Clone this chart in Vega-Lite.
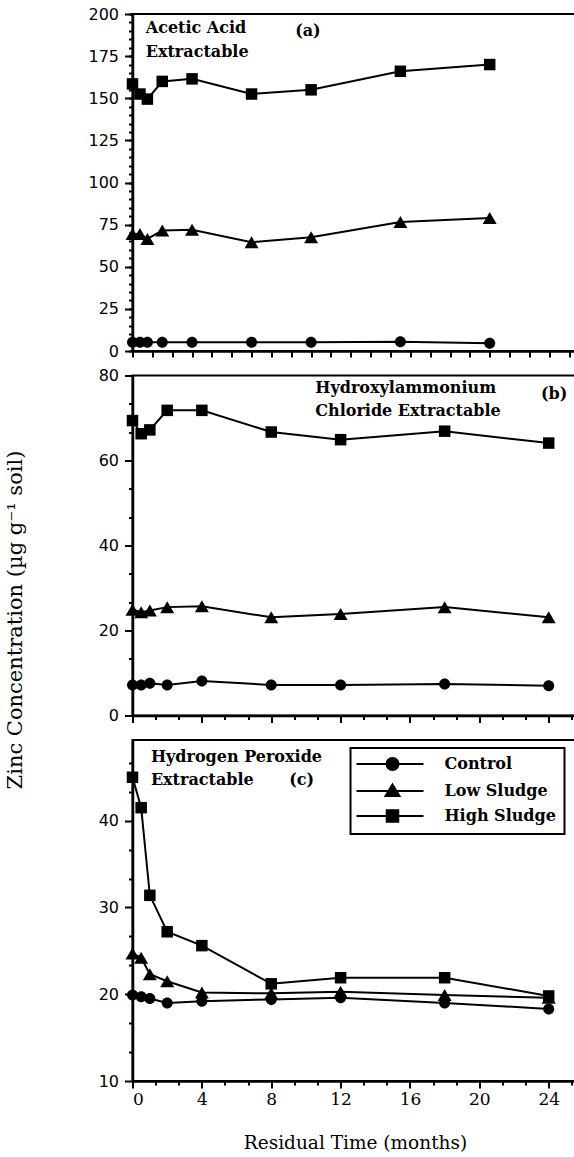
{
  "$schema": "https://vega.github.io/schema/vega-lite/v6.json",
  "background": "white",
  "padding": {"left": 3.5, "top": 5, "right": 0, "bottom": 5},
  "config": {
    "view": {"stroke": "black", "strokeWidth": 2},
    "axis": {"domainColor": "black", "domainWidth": 2.5, "tickColor": "black", "tickWidth": 2, "grid": false, "labelColor": "black", "titleColor": "black"}
  },
  "datasets": {
    "zinc": [
      {"panel": "a", "treatment": "Control", "month": 0, "zinc": 5.2},
      {"panel": "a", "treatment": "Control", "month": 0.5, "zinc": 5.2},
      {"panel": "a", "treatment": "Control", "month": 1, "zinc": 5.2},
      {"panel": "a", "treatment": "Control", "month": 2, "zinc": 5.2},
      {"panel": "a", "treatment": "Control", "month": 4, "zinc": 5.2},
      {"panel": "a", "treatment": "Control", "month": 8, "zinc": 5.2},
      {"panel": "a", "treatment": "Control", "month": 12, "zinc": 5.2},
      {"panel": "a", "treatment": "Control", "month": 18, "zinc": 5.5},
      {"panel": "a", "treatment": "Control", "month": 24, "zinc": 4.6},
      {"panel": "a", "treatment": "Low Sludge", "month": 0, "zinc": 69.5},
      {"panel": "a", "treatment": "Low Sludge", "month": 0.5, "zinc": 69.5},
      {"panel": "a", "treatment": "Low Sludge", "month": 1, "zinc": 66.5},
      {"panel": "a", "treatment": "Low Sludge", "month": 2, "zinc": 71.5},
      {"panel": "a", "treatment": "Low Sludge", "month": 4, "zinc": 72},
      {"panel": "a", "treatment": "Low Sludge", "month": 8, "zinc": 64.5},
      {"panel": "a", "treatment": "Low Sludge", "month": 12, "zinc": 67.5},
      {"panel": "a", "treatment": "Low Sludge", "month": 18, "zinc": 76.5},
      {"panel": "a", "treatment": "Low Sludge", "month": 24, "zinc": 79},
      {"panel": "a", "treatment": "High Sludge", "month": 0, "zinc": 158.5},
      {"panel": "a", "treatment": "High Sludge", "month": 0.5, "zinc": 152.5},
      {"panel": "a", "treatment": "High Sludge", "month": 1, "zinc": 149.5},
      {"panel": "a", "treatment": "High Sludge", "month": 2, "zinc": 160},
      {"panel": "a", "treatment": "High Sludge", "month": 4, "zinc": 161.5},
      {"panel": "a", "treatment": "High Sludge", "month": 8, "zinc": 152.5},
      {"panel": "a", "treatment": "High Sludge", "month": 12, "zinc": 155},
      {"panel": "a", "treatment": "High Sludge", "month": 18, "zinc": 166},
      {"panel": "a", "treatment": "High Sludge", "month": 24, "zinc": 170},
      {"panel": "b", "treatment": "Control", "month": 0, "zinc": 7.2},
      {"panel": "b", "treatment": "Control", "month": 0.5, "zinc": 7.2},
      {"panel": "b", "treatment": "Control", "month": 1, "zinc": 7.6},
      {"panel": "b", "treatment": "Control", "month": 2, "zinc": 7.2},
      {"panel": "b", "treatment": "Control", "month": 4, "zinc": 8.1},
      {"panel": "b", "treatment": "Control", "month": 8, "zinc": 7.2},
      {"panel": "b", "treatment": "Control", "month": 12, "zinc": 7.2},
      {"panel": "b", "treatment": "Control", "month": 18, "zinc": 7.4},
      {"panel": "b", "treatment": "Control", "month": 24, "zinc": 7.0},
      {"panel": "b", "treatment": "Low Sludge", "month": 0, "zinc": 24.9},
      {"panel": "b", "treatment": "Low Sludge", "month": 0.5, "zinc": 24.3},
      {"panel": "b", "treatment": "Low Sludge", "month": 1, "zinc": 24.7},
      {"panel": "b", "treatment": "Low Sludge", "month": 2, "zinc": 25.5},
      {"panel": "b", "treatment": "Low Sludge", "month": 4, "zinc": 25.7},
      {"panel": "b", "treatment": "Low Sludge", "month": 8, "zinc": 23.1},
      {"panel": "b", "treatment": "Low Sludge", "month": 12, "zinc": 23.9},
      {"panel": "b", "treatment": "Low Sludge", "month": 18, "zinc": 25.5},
      {"panel": "b", "treatment": "Low Sludge", "month": 24, "zinc": 23.1},
      {"panel": "b", "treatment": "High Sludge", "month": 0, "zinc": 69.4},
      {"panel": "b", "treatment": "High Sludge", "month": 0.5, "zinc": 66.3},
      {"panel": "b", "treatment": "High Sludge", "month": 1, "zinc": 67.2},
      {"panel": "b", "treatment": "High Sludge", "month": 2, "zinc": 71.8},
      {"panel": "b", "treatment": "High Sludge", "month": 4, "zinc": 71.8},
      {"panel": "b", "treatment": "High Sludge", "month": 8, "zinc": 66.7},
      {"panel": "b", "treatment": "High Sludge", "month": 12, "zinc": 64.9},
      {"panel": "b", "treatment": "High Sludge", "month": 18, "zinc": 66.9},
      {"panel": "b", "treatment": "High Sludge", "month": 24, "zinc": 64.1},
      {"panel": "c", "treatment": "Control", "month": 0, "zinc": 19.9},
      {"panel": "c", "treatment": "Control", "month": 0.5, "zinc": 19.7},
      {"panel": "c", "treatment": "Control", "month": 1, "zinc": 19.5},
      {"panel": "c", "treatment": "Control", "month": 2, "zinc": 19.0},
      {"panel": "c", "treatment": "Control", "month": 4, "zinc": 19.2},
      {"panel": "c", "treatment": "Control", "month": 8, "zinc": 19.4},
      {"panel": "c", "treatment": "Control", "month": 12, "zinc": 19.6},
      {"panel": "c", "treatment": "Control", "month": 18, "zinc": 19.0},
      {"panel": "c", "treatment": "Control", "month": 24, "zinc": 18.3},
      {"panel": "c", "treatment": "Low Sludge", "month": 0, "zinc": 24.7},
      {"panel": "c", "treatment": "Low Sludge", "month": 0.5, "zinc": 24.2},
      {"panel": "c", "treatment": "Low Sludge", "month": 1, "zinc": 22.3},
      {"panel": "c", "treatment": "Low Sludge", "month": 2, "zinc": 21.5},
      {"panel": "c", "treatment": "Low Sludge", "month": 4, "zinc": 20.2},
      {"panel": "c", "treatment": "Low Sludge", "month": 8, "zinc": 20.1},
      {"panel": "c", "treatment": "Low Sludge", "month": 12, "zinc": 20.3},
      {"panel": "c", "treatment": "Low Sludge", "month": 18, "zinc": 19.9},
      {"panel": "c", "treatment": "Low Sludge", "month": 24, "zinc": 19.6},
      {"panel": "c", "treatment": "High Sludge", "month": 0, "zinc": 45.0},
      {"panel": "c", "treatment": "High Sludge", "month": 0.5, "zinc": 41.5},
      {"panel": "c", "treatment": "High Sludge", "month": 1, "zinc": 31.4},
      {"panel": "c", "treatment": "High Sludge", "month": 2, "zinc": 27.2},
      {"panel": "c", "treatment": "High Sludge", "month": 4, "zinc": 25.6},
      {"panel": "c", "treatment": "High Sludge", "month": 8, "zinc": 21.2},
      {"panel": "c", "treatment": "High Sludge", "month": 12, "zinc": 21.9},
      {"panel": "c", "treatment": "High Sludge", "month": 18, "zinc": 21.9},
      {"panel": "c", "treatment": "High Sludge", "month": 24, "zinc": 19.8}
    ],
    "notes": [
      {"panel": "a", "month": 0.89, "zinc": 191.4, "label": "Acetic Acid"},
      {"panel": "a", "month": 0.89, "zinc": 177.3, "label": "Extractable"},
      {"panel": "a", "month": 10.93, "zinc": 189.8, "label": "(a)"},
      {"panel": "b", "month": 10.54, "zinc": 77.0, "label": "Hydroxylammonium"},
      {"panel": "b", "month": 10.54, "zinc": 71.6, "label": "Chloride Extractable"},
      {"panel": "b", "month": 23.55, "zinc": 75.7, "label": "(b)"},
      {"panel": "c", "month": 1.06, "zinc": 47.3, "label": "Hydrogen Peroxide"},
      {"panel": "c", "month": 1.06, "zinc": 44.7, "label": "Extractable"},
      {"panel": "c", "month": 9.04, "zinc": 44.7, "label": "(c)"}
    ]
  },
  "bounds": "flush",
  "spacing": 24.5,
  "resolve": {"scale": {"shape": "independent", "color": "independent"}, "legend": {"shape": "independent", "color": "independent"}},
  "vconcat": [
    {
      "width": 445,
      "height": 337,
      "resolve": {"axis": {"x": "independent", "y": "independent"}},
      "layer": [
        {
          "data": {"name": "zinc"},
          "transform": [{"filter": "datum.panel === 'a'"}],
          "mark": {"type": "line", "color": "black", "strokeWidth": 2},
          "encoding": {
            "x": {"field": "month", "type": "quantitative", "scale": {"domain": [0, 29.9], "nice": false, "zero": false},
              "axis": {"orient": "bottom", "values": [0, 1.3333, 2.6667, 4, 5.3333, 6.6667, 8, 9.3333, 10.6667, 12, 13.3333, 14.6667, 16, 17.3333, 18.6667, 20, 21.3333, 22.6667, 24, 25.3333, 26.6667, 28, 29.3333], "labels": false, "tickSize": 6, "title": null}},
            "y": {"field": "zinc", "type": "quantitative", "scale": {"domain": [0, 200], "nice": false},
              "axis": {"orient": "left", "values": [0, 25, 50, 75, 100, 125, 150, 175, 200], "tickSize": 8, "labelPadding": 6, "labelFont": "DejaVu Sans", "labelFontSize": 16, "title": null}},
            "detail": {"field": "treatment"}
          }
        },
        {
          "data": {"name": "zinc"},
          "transform": [{"filter": "datum.panel === 'a'"}],
          "mark": {"type": "point", "filled": true, "color": "black", "opacity": 1, "size": 100},
          "encoding": {
            "x": {"field": "month", "type": "quantitative", "axis": null},
            "y": {"field": "zinc", "type": "quantitative",
              "axis": {"orient": "left", "values": [0, 5, 10, 15, 20, 25, 30, 35, 40, 45, 50, 55, 60, 65, 70, 75, 80, 85, 90, 95, 100, 105, 110, 115, 120, 125, 130, 135, 140, 145, 150, 155, 160, 165, 170, 175, 180, 185, 190, 195, 200], "labels": false, "domain": false, "tickSize": 4, "title": null}},
            "shape": {"field": "treatment", "type": "nominal",
              "scale": {"domain": ["High Sludge", "Low Sludge", "Control"], "range": ["M-1.15,-1.15H1.15V1.15H-1.15Z", "M0,-1.2L1.4,1.2L-1.4,1.2Z", "M1.1,0A1.1,1.1,0,1,1,-1.1,0A1.1,1.1,0,1,1,1.1,0Z"]},
              "legend": null}
          }
        },
        {
          "data": {"name": "notes"},
          "transform": [{"filter": "datum.panel === 'a'"}],
          "mark": {"type": "text", "align": "left", "baseline": "middle", "font": "DejaVu Serif", "fontWeight": "bold", "fontSize": 16, "color": "black"},
          "encoding": {
            "x": {"field": "month", "type": "quantitative", "axis": null},
            "y": {"field": "zinc", "type": "quantitative", "axis": null},
            "text": {"field": "label"}
          }
        }
      ]
    },
    {
      "width": 445,
      "height": 340,
      "resolve": {"axis": {"x": "independent", "y": "independent"}},
      "layer": [
        {
          "data": {"name": "zinc"},
          "transform": [{"filter": "datum.panel === 'b'"}],
          "mark": {"type": "line", "color": "black", "strokeWidth": 2},
          "encoding": {
            "x": {"field": "month", "type": "quantitative", "scale": {"domain": [0, 25.66], "nice": false, "zero": false},
              "axis": {"orient": "bottom", "values": [0, 4, 8, 12, 16, 20, 24], "labels": false, "tickSize": 7, "title": null}},
            "y": {"field": "zinc", "type": "quantitative", "scale": {"domain": [0, 80], "nice": false},
              "axis": {"orient": "left", "values": [0, 20, 40, 60, 80], "tickSize": 8, "labelPadding": 6, "labelFont": "DejaVu Sans", "labelFontSize": 16,
                "title": "Zinc Concentration (µg g⁻¹ soil)", "titleFont": "DejaVu Serif", "titleFontSize": 21, "titleFontWeight": "normal", "titleX": -117, "titleY": 244, "titleAngle": 270, "titleAlign": "center", "titleBaseline": "middle"}},
            "detail": {"field": "treatment"}
          }
        },
        {
          "data": {"name": "zinc"},
          "transform": [{"filter": "datum.panel === 'b'"}],
          "mark": {"type": "point", "filled": true, "color": "black", "opacity": 1, "size": 100},
          "encoding": {
            "x": {"field": "month", "type": "quantitative",
              "axis": {"orient": "bottom", "values": [1.3333, 2.6667, 5.3333, 6.6667, 9.3333, 10.6667, 13.3333, 14.6667, 17.3333, 18.6667, 21.3333, 22.6667, 25.3333], "labels": false, "domain": false, "tickSize": 4, "title": null}},
            "y": {"field": "zinc", "type": "quantitative",
              "axis": {"orient": "left", "values": [6.6667, 13.3333, 26.6667, 33.3333, 46.6667, 53.3333, 66.6667, 73.3333], "labels": false, "domain": false, "tickSize": 4, "title": null}},
            "shape": {"field": "treatment", "type": "nominal",
              "scale": {"domain": ["High Sludge", "Low Sludge", "Control"], "range": ["M-1.15,-1.15H1.15V1.15H-1.15Z", "M0,-1.2L1.4,1.2L-1.4,1.2Z", "M1.1,0A1.1,1.1,0,1,1,-1.1,0A1.1,1.1,0,1,1,1.1,0Z"]},
              "legend": null}
          }
        },
        {
          "data": {"name": "notes"},
          "transform": [{"filter": "datum.panel === 'b'"}],
          "mark": {"type": "text", "align": "left", "baseline": "middle", "font": "DejaVu Serif", "fontWeight": "bold", "fontSize": 16, "color": "black"},
          "encoding": {
            "x": {"field": "month", "type": "quantitative", "axis": null},
            "y": {"field": "zinc", "type": "quantitative", "axis": null},
            "text": {"field": "label"}
          }
        }
      ]
    },
    {
      "width": 445,
      "height": 341,
      "resolve": {"axis": {"x": "independent", "y": "independent"}},
      "layer": [
        {
          "data": {"name": "zinc"},
          "transform": [{"filter": "datum.panel === 'c'"}],
          "mark": {"type": "line", "color": "black", "strokeWidth": 2},
          "encoding": {
            "x": {"field": "month", "type": "quantitative", "scale": {"domain": [0, 25.66], "nice": false, "zero": false},
              "axis": {"orient": "bottom", "values": [0, 4, 8, 12, 16, 20, 24], "tickSize": 7, "labelPadding": 3, "labelFont": "DejaVu Serif", "labelFontSize": 17,
                "title": "Residual Time (months)", "titleFont": "DejaVu Serif", "titleFontSize": 18.5, "titleFontWeight": "normal", "titlePadding": 26}},
            "y": {"field": "zinc", "type": "quantitative", "scale": {"domain": [10, 49.3], "nice": false, "zero": false},
              "axis": {"orient": "left", "values": [10, 20, 30, 40], "tickSize": 8, "labelPadding": 6, "labelFont": "DejaVu Sans", "labelFontSize": 16, "title": null}},
            "detail": {"field": "treatment"}
          }
        },
        {
          "data": {"name": "zinc"},
          "transform": [{"filter": "datum.panel === 'c'"}],
          "mark": {"type": "point", "filled": true, "color": "black", "opacity": 1, "size": 100},
          "encoding": {
            "x": {"field": "month", "type": "quantitative",
              "axis": {"orient": "bottom", "values": [1.3333, 2.6667, 5.3333, 6.6667, 9.3333, 10.6667, 13.3333, 14.6667, 17.3333, 18.6667, 21.3333, 22.6667, 25.3333], "labels": false, "domain": false, "tickSize": 4, "title": null}},
            "y": {"field": "zinc", "type": "quantitative",
              "axis": {"orient": "left", "values": [13.3333, 16.6667, 23.3333, 26.6667, 33.3333, 36.6667, 43.3333, 46.6667], "labels": false, "domain": false, "tickSize": 4, "title": null}},
            "shape": {"field": "treatment", "type": "nominal",
              "scale": {"domain": ["High Sludge", "Low Sludge", "Control"], "range": ["M-1.15,-1.15H1.15V1.15H-1.15Z", "M0,-1.2L1.4,1.2L-1.4,1.2Z", "M1.1,0A1.1,1.1,0,1,1,-1.1,0A1.1,1.1,0,1,1,1.1,0Z"]},
              "legend": null},
            "color": {"field": "treatment", "type": "nominal",
              "scale": {"domain": ["Control", "Low Sludge", "High Sludge"], "range": ["black", "black", "black"]},
              "legend": {
                "orient": "none", "legendX": 218, "legendY": 8, "title": null,
                "symbolSize": 100, "symbolStrokeWidth": 2, "symbolStrokeColor": "black", "symbolFillColor": "black", "symbolOffset": 0, "symbolOpacity": 1,
                "labelFont": "DejaVu Serif", "labelFontSize": 16, "labelFontWeight": "bold", "labelColor": "black", "labelOffset": 70, "labelLimit": 300,
                "rowPadding": 6, "padding": 8, "strokeColor": "black",
                "encode": {
                  "legend": {"update": {"strokeWidth": {"value": 2}}, "strokeWidth": {"value": 2}},
                  "symbols": {
                    "update": {
                      "shape": {"signal": "datum.value === 'Control' ? 'M-2,0H11.4M6.4,0A1.2,1.2,0,1,1,4,0A1.2,1.2,0,1,1,6.4,0Z' : datum.value === 'Low Sludge' ? 'M-2,0H11.4M5.2,-1.3L6.6,1L3.8,1Z' : 'M-2,0H11.4M4.05,-1.15H6.35V1.15H4.05Z'"},
                      "strokeWidth": {"value": 2},
                      "stroke": {"value": "black"},
                      "fill": {"value": "black"}
                    },
                    "shape": {"value": {"expr": "datum.value === 'Control' ? 'M-2,0H11.4M6.4,0A1.2,1.2,0,1,1,4,0A1.2,1.2,0,1,1,6.4,0Z' : datum.value === 'Low Sludge' ? 'M-2,0H11.4M5.2,-1.3L6.6,1L3.8,1Z' : 'M-2,0H11.4M4.05,-1.15H6.35V1.15H4.05Z'"}},
                    "strokeWidth": {"value": 2},
                    "stroke": {"value": "black"},
                    "fill": {"value": "black"}
                  }
                }
              }}
          }
        },
        {
          "data": {"name": "notes"},
          "transform": [{"filter": "datum.panel === 'c'"}],
          "mark": {"type": "text", "align": "left", "baseline": "middle", "font": "DejaVu Serif", "fontWeight": "bold", "fontSize": 16, "color": "black"},
          "encoding": {
            "x": {"field": "month", "type": "quantitative", "axis": null},
            "y": {"field": "zinc", "type": "quantitative", "axis": null},
            "text": {"field": "label"}
          }
        }
      ]
    }
  ]
}
